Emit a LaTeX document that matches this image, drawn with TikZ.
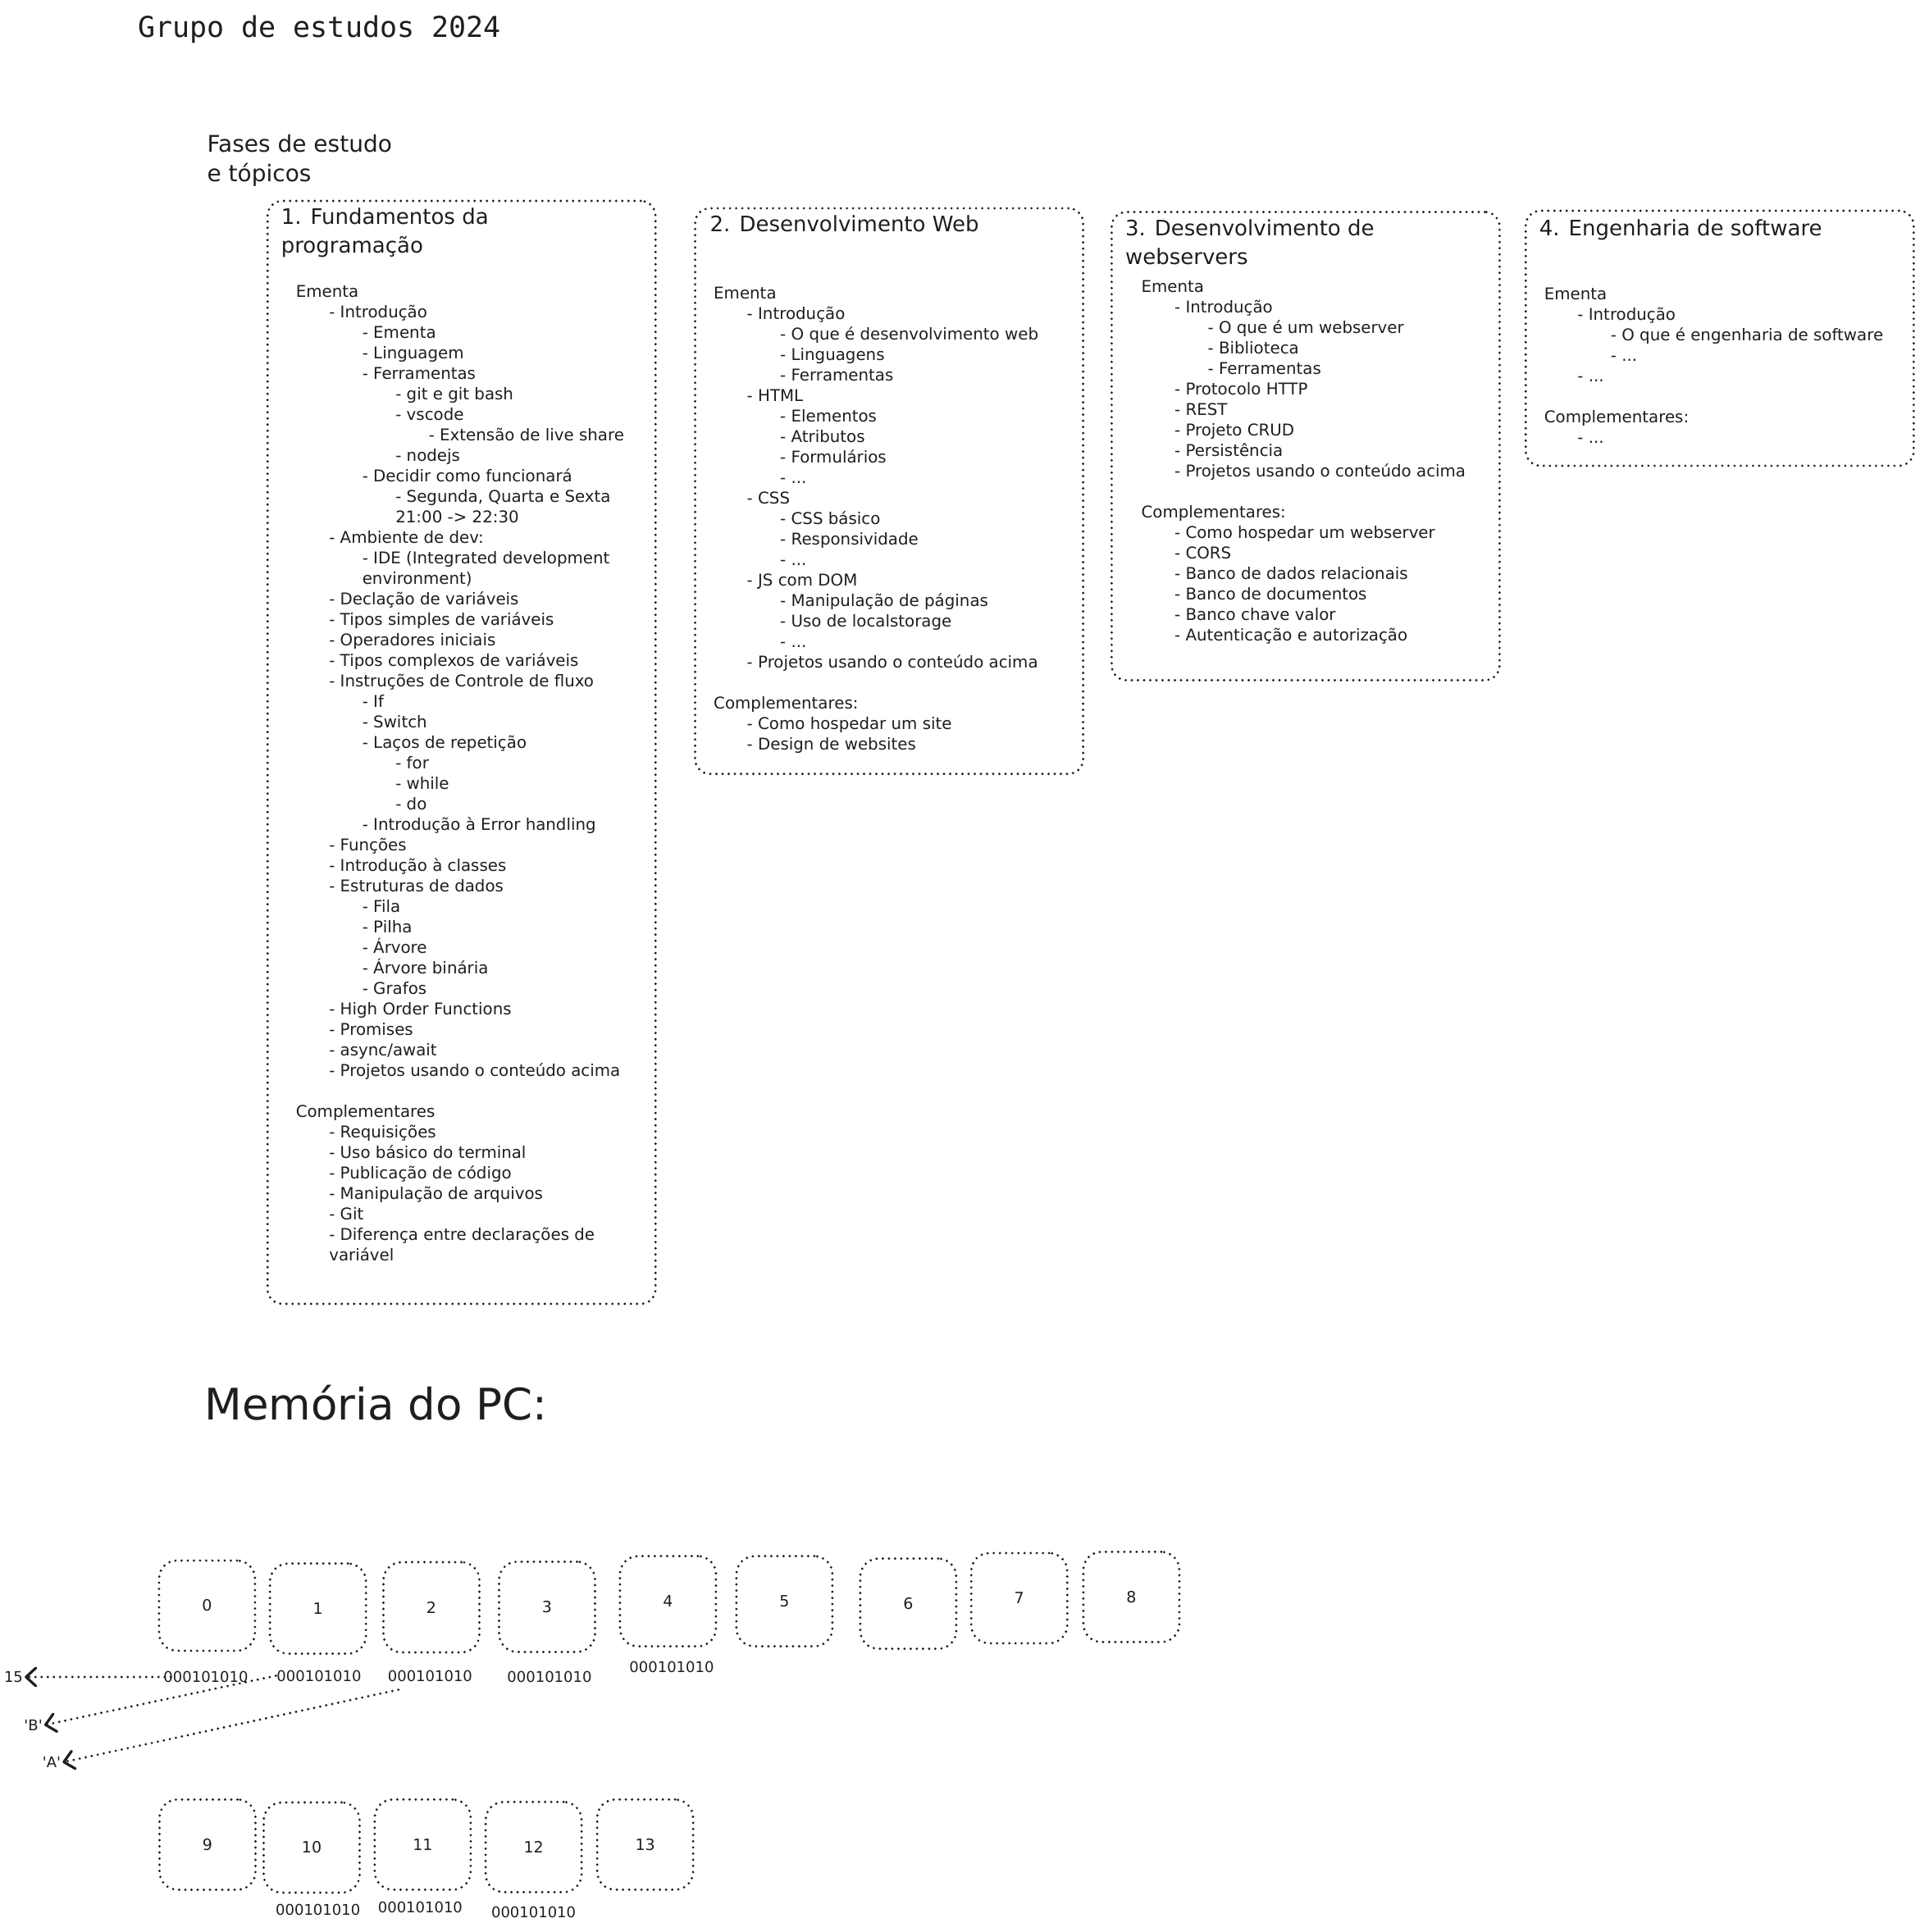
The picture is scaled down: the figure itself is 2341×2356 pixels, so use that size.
\documentclass[tikz,border=0pt]{standalone}
\usepackage{fontspec}
\setmainfont{DejaVu Sans}
\setmonofont{DejaVu Sans Mono}
\usetikzlibrary{arrows.meta}

\definecolor{tinta}{HTML}{1E1E1E}
\newcommand{\nivel}[1]{\hspace*{#1\dimexpr 40.5pt\relax}}

\tikzset{
  pontilhado/.style={draw=tinta, line width=3.2pt, dash pattern=on 0pt off 7.5pt, line cap=round},
  fase/.style={pontilhado, rounded corners=18pt, anchor=north west, inner sep=0pt, minimum width=473pt},
  tituloFase/.style={anchor=north west, align=left, inner sep=0pt, text=tinta, font=\fontsize{26}{35}\selectfont},
  ementa/.style={anchor=north west, align=left, inner sep=0pt, text=tinta, font=\fontsize{19.8}{25}\selectfont},
  celula/.style={pontilhado, rounded corners=22pt, minimum width=117pt, minimum height=110pt, text=tinta, font=\fontsize{19}{24}\selectfont},
  bits/.style={text=tinta, inner sep=1pt, font=\fontsize{18}{22}\selectfont},
  valor/.style={text=tinta, inner sep=2pt, font=\fontsize{18}{22}\selectfont},
  ponteiro/.style={pontilhado, -{Straight Barb[length=12pt,width=22pt,round]}}
}

\begin{document}
\begin{tikzpicture}[x=1pt,y=-1pt]
	\useasboundingbox (0,0) rectangle (2341,2356);

	% titulos
	\node[anchor=base west, inner sep=0pt, text=tinta, font=\ttfamily\fontsize{35}{40}\selectfont] (grupo) at (168,45) {Grupo de estudos 2024};
	\node[anchor=north west, align=left, inner sep=0pt, text=tinta, font=\fontsize{28}{36}\selectfont] (fases) at (252.4,164) {Fases de estudo\\e tópicos};

	% fases de estudo
	\node[fase, minimum height=1345pt] (fase1) at (324.6,243.4) {};
	\node[fase, minimum height=689.7pt] (fase2) at (846,252.4) {};
	\node[fase, minimum height=571pt] (fase3) at (1353.8,256.9) {};
	\node[fase, minimum height=311pt] (fase4) at (1858.7,255.4) {};

	\node[tituloFase] (titulo1) at ([shift={(18,10.5)}]fase1.north west) {1. Fundamentos da\\programação};
	\node[tituloFase] (titulo2) at ([shift={(19.5,10.5)}]fase2.north west) {2. Desenvolvimento Web};
	\node[tituloFase] (titulo3) at ([shift={(18,11)}]fase3.north west) {3. Desenvolvimento de\\webservers};
	\node[tituloFase] (titulo4) at ([shift={(18,12.5)}]fase4.north west) {4. Engenharia de software};

	\node[ementa] (ementa1) at ([shift={(36,104.6)}]fase1.north west) {Ementa\\
		\nivel{1}- Introdução\\
		\nivel{2}- Ementa\\
		\nivel{2}- Linguagem\\
		\nivel{2}- Ferramentas\\
		\nivel{3}- git e git bash\\
		\nivel{3}- vscode\\
		\nivel{4}- Extensão de live share\\
		\nivel{3}- nodejs\\
		\nivel{2}- Decidir como funcionará\\
		\nivel{3}- Segunda, Quarta e Sexta\\
		\nivel{3}21:00 -> 22:30\\
		\nivel{1}- Ambiente de dev:\\
		\nivel{2}- IDE (Integrated development\\
		\nivel{2}environment)\\
		\nivel{1}- Declação de variáveis\\
		\nivel{1}- Tipos simples de variáveis\\
		\nivel{1}- Operadores iniciais\\
		\nivel{1}- Tipos complexos de variáveis\\
		\nivel{1}- Instruções de Controle de fluxo\\
		\nivel{2}- If\\
		\nivel{2}- Switch\\
		\nivel{2}- Laços de repetição\\
		\nivel{3}- for\\
		\nivel{3}- while\\
		\nivel{3}- do\\
		\nivel{2}- Introdução à Error handling\\
		\nivel{1}- Funções\\
		\nivel{1}- Introdução à classes\\
		\nivel{1}- Estruturas de dados\\
		\nivel{2}- Fila\\
		\nivel{2}- Pilha\\
		\nivel{2}- Árvore\\
		\nivel{2}- Árvore binária\\
		\nivel{2}- Grafos\\
		\nivel{1}- High Order Functions\\
		\nivel{1}- Promises\\
		\nivel{1}- async/await\\
		\nivel{1}- Projetos usando o conteúdo acima\\[25pt]
		Complementares\\
		\nivel{1}- Requisições\\
		\nivel{1}- Uso básico do terminal\\
		\nivel{1}- Publicação de código\\
		\nivel{1}- Manipulação de arquivos\\
		\nivel{1}- Git\\
		\nivel{1}- Diferença entre declarações de\\
		\nivel{1}variável};

	\node[ementa] (ementa2) at ([shift={(24,97.2)}]fase2.north west) {Ementa\\
		\nivel{1}- Introdução\\
		\nivel{2}- O que é desenvolvimento web\\
		\nivel{2}- Linguagens\\
		\nivel{2}- Ferramentas\\
		\nivel{1}- HTML\\
		\nivel{2}- Elementos\\
		\nivel{2}- Atributos\\
		\nivel{2}- Formulários\\
		\nivel{2}- ...\\
		\nivel{1}- CSS\\
		\nivel{2}- CSS básico\\
		\nivel{2}- Responsividade\\
		\nivel{2}- ...\\
		\nivel{1}- JS com DOM\\
		\nivel{2}- Manipulação de páginas\\
		\nivel{2}- Uso de localstorage\\
		\nivel{2}- ...\\
		\nivel{1}- Projetos usando o conteúdo acima\\[25pt]
		Complementares:\\
		\nivel{1}- Como hospedar um site\\
		\nivel{1}- Design de websites};

	\node[ementa] (ementa3) at ([shift={(37.6,85)}]fase3.north west) {Ementa\\
		\nivel{1}- Introdução\\
		\nivel{2}- O que é um webserver\\
		\nivel{2}- Biblioteca\\
		\nivel{2}- Ferramentas\\
		\nivel{1}- Protocolo HTTP\\
		\nivel{1}- REST\\
		\nivel{1}- Projeto CRUD\\
		\nivel{1}- Persistência\\
		\nivel{1}- Projetos usando o conteúdo acima\\[25pt]
		Complementares:\\
		\nivel{1}- Como hospedar um webserver\\
		\nivel{1}- CORS\\
		\nivel{1}- Banco de dados relacionais\\
		\nivel{1}- Banco de documentos\\
		\nivel{1}- Banco chave valor\\
		\nivel{1}- Autenticação e autorização};

	\node[ementa] (ementa4) at ([shift={(24,95.6)}]fase4.north west) {Ementa\\
		\nivel{1}- Introdução\\
		\nivel{2}- O que é engenharia de software\\
		\nivel{2}- ...\\
		\nivel{1}- ...\\[25pt]
		Complementares:\\
		\nivel{1}- ...};

	% memoria
	\node[anchor=base west, inner sep=0pt, text=tinta, font=\fontsize{53}{60}\selectfont] (memoria) at (249.4,1731) {Memória do PC:};

	\foreach \n/\x/\y in {0/252.4/1958, 1/387.7/1961.6, 2/526/1960, 3/667/1959.4, 4/814.4/1952.6,
			5/956.4/1952.6, 6/1107.4/1955.6, 7/1242.7/1948.9, 8/1379.4/1947.4,
			9/253/2249.4, 10/380/2253, 11/515.4/2249.4, 12/650.6/2252.4, 13/786.6/2249.4}
		\node[celula] (c\n) at (\x,\y) {\n};

	\foreach \n/\x/\y in {0/251/2045, 1/389/2043.5, 2/524.4/2043.5, 3/670/2045, 4/819/2033,
			10/387.7/2329, 11/512.4/2326, 12/650.6/2332}
		\node[bits] (b\n) at (\x,\y) {000101010};

	\node[valor] (v15) at (16.5,2045) {15};
	\node[valor] (vB) at (40.6,2103.6) {\textquotesingle B\textquotesingle};
	\node[valor] (vA) at (63,2149) {\textquotesingle A\textquotesingle};

	\draw[ponteiro] ([xshift=10pt]b0.west) -- (v15.east);
	\draw[ponteiro] (b1.west) -- (vB.east);
	\draw[ponteiro] ([shift={(14,9)}]b2.south west) -- (vA.east);
\end{tikzpicture}
\end{document}
